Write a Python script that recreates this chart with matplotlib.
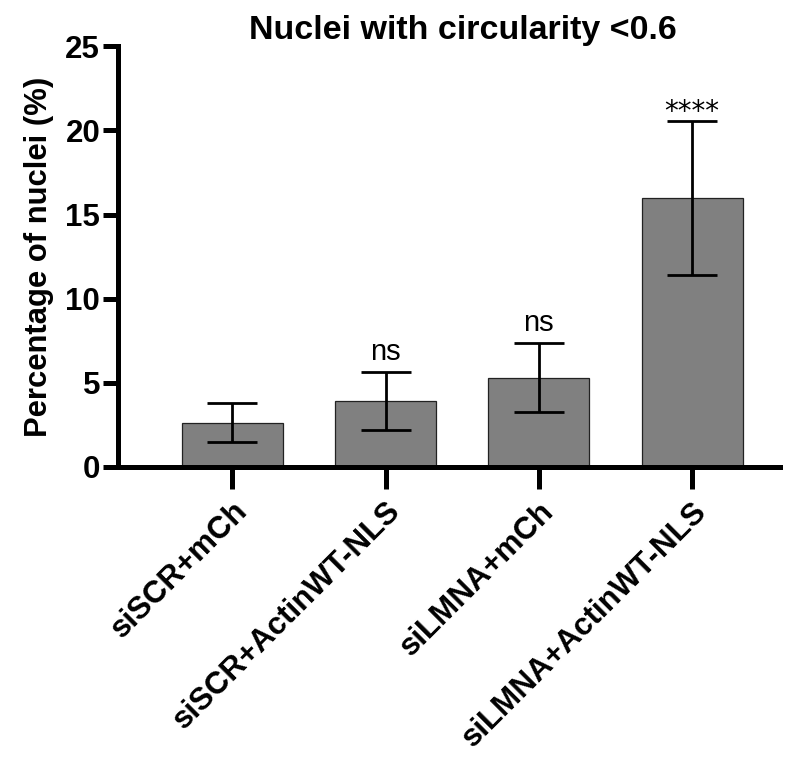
import matplotlib.pyplot as plt

plt.rcParams['font.family'] = ['Liberation Sans', 'DejaVu Sans']

groups = ['siSCR+mCh', 'siSCR+ActinWT-NLS', 'siLMNA+mCh', 'siLMNA+ActinWT-NLS']
means = [2.62, 3.93, 5.30, 15.97]
errors = [1.16, 1.73, 2.05, 4.56]
signif = ['', 'ns', 'ns', '****']

fig = plt.figure(figsize=(7.88, 7.58), dpi=100)
ax = fig.add_axes([0.150, 0.384, 0.840, 0.555])

x = range(len(groups))
ax.bar(x, means, width=0.66, color='#808080', edgecolor='#222222', linewidth=0.9, zorder=2)
ax.errorbar(x, means, yerr=errors, fmt='none', ecolor='black', elinewidth=2,
            capsize=18, capthick=2, zorder=3)

# significance labels above error bars
for i, s in enumerate(signif):
    if s == 'ns':
        ax.text(i, means[i] + errors[i] + 0.72, s, ha='center', va='baseline', fontsize=21)
    elif s:
        ax.text(i, means[i] + errors[i] - 0.25, s, ha='center', va='bottom', fontsize=20,
                family='DejaVu Sans')

ax.set_xlim(-0.744, 3.574)
ax.set_ylim(0, 25)
ax.set_yticks([0, 5, 10, 15, 20, 25])
ax.set_xticks(list(x))
ax.set_xticklabels(groups, rotation=45, ha='right', va='top', rotation_mode='anchor',
                   fontsize=22.5, fontweight='bold')
for lab in ax.get_yticklabels():
    lab.set_fontsize(22.5)
    lab.set_fontweight('bold')

ax.spines['top'].set_visible(False)
ax.spines['right'].set_visible(False)
ax.spines['left'].set_linewidth(3.6)
ax.spines['bottom'].set_linewidth(3.6)
ax.tick_params(axis='x', width=3.6, length=16, pad=5)
ax.tick_params(axis='y', width=3.6, length=11, pad=2)

ax.set_ylabel('Percentage of nuclei (%)', fontsize=22.3, fontweight='bold', labelpad=8)
ax.set_title('Nuclei with circularity <0.6', fontsize=24.5, fontweight='bold', pad=3,
             x=0.521)

fig.savefig('out.png', dpi=100)
